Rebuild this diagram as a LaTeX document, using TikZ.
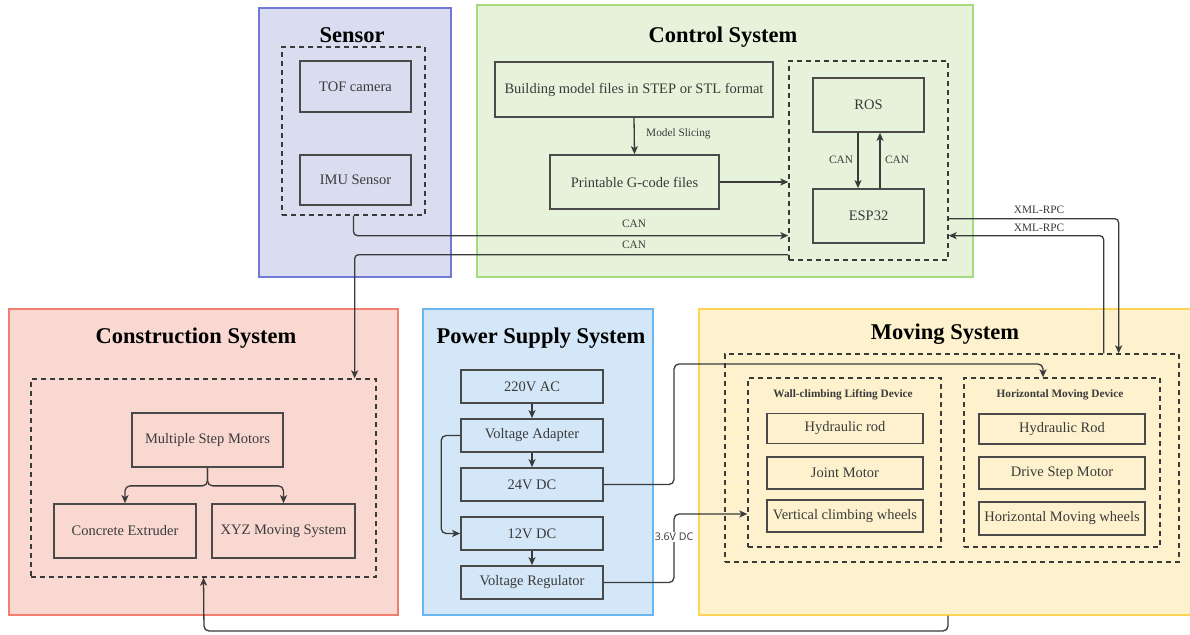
\documentclass[tikz,border=0pt]{standalone}
\usepackage{fontspec}
\setmainfont{Liberation Serif}
\newfontfamily\labsans{Open Sans}
\usetikzlibrary{arrows.meta,calc}
\definecolor{sensF}{HTML}{DADCF0}\definecolor{sensB}{HTML}{7078D8}
\definecolor{ctrlF}{HTML}{E6F3DA}\definecolor{ctrlB}{HTML}{A6DA7E}
\definecolor{consF}{HTML}{F9D8D2}\definecolor{consB}{HTML}{F07F6E}
\definecolor{powF}{HTML}{D4E7F8}\definecolor{powB}{HTML}{6BB5F0}
\definecolor{movF}{HTML}{FDF2CD}\definecolor{movB}{HTML}{FFD454}
\definecolor{ink}{HTML}{3A3A3A}
\definecolor{edge}{HTML}{4A4A4A}
\tikzset{
  panel/.style={draw=#1B, fill=#1F, line width=1.4pt, inner sep=0pt},
  ptitle/.style={font=\fontsize{22.5}{24}\selectfont\bfseries, text=black, inner sep=0pt, anchor=base},
  dbox/.style={draw=ink, dash pattern=on 5pt off 4pt, line width=1.3pt, inner sep=0pt},
  box/.style={draw=edge, line width=1.7pt, inner sep=0pt, text=ink, font=\fontsize{14.5}{16}\selectfont},
  arr/.style={draw=ink, line width=1.3pt, -{Stealth[length=8pt,width=7pt,inset=2pt]}},
  lbl/.style={font=\fontsize{11.3}{13}\selectfont, text=ink, inner sep=1pt},
  subt/.style={font=\fontsize{11.3}{13}\selectfont\bfseries, text=ink, inner sep=0pt},
}
\begin{document}
\begin{tikzpicture}[x=1pt,y=-1pt]
\useasboundingbox (0,0) rectangle (1190,634);
% panels
\node[panel=sens, minimum width=192pt, minimum height=269pt] (sensorP) at (355,142.5) {};
\node[panel=ctrl, minimum width=496pt, minimum height=272pt] (controlP) at (725,141) {};
\node[panel=cons, minimum width=389pt, minimum height=306pt] (constrP) at (203.5,462) {};
\node[panel=pow, minimum width=230pt, minimum height=306pt] (powerP) at (538,462) {};
\node[panel=mov, minimum width=493pt, minimum height=306pt] (movingP) at (945.5,462) {};
% titles
\node[ptitle] (tSensor) at (352,42) {Sensor};
\node[ptitle] (tControl) at (723,42) {Control System};
\node[ptitle] (tConstr) at (196,343) {Construction System};
\node[ptitle] (tPower) at (541,343) {Power Supply System};
\node[ptitle] (tMoving) at (945,339) {Moving System};
% dashed groups
\node[dbox, minimum width=143pt, minimum height=168pt] (sensorD) at (353.5,131) {};
\node[dbox, minimum width=159pt, minimum height=199pt] (controlD) at (868.5,160.5) {};
\node[dbox, minimum width=345pt, minimum height=198pt] (constrD) at (203.5,478) {};
\node[dbox, minimum width=454pt, minimum height=208pt] (movingD) at (952,458) {};
\node[dbox, minimum width=193pt, minimum height=169pt] (wallD) at (844.5,462.5) {};
\node[dbox, minimum width=196pt, minimum height=169pt] (horizD) at (1062,462.5) {};
\node[subt] (tWall) at (843,395) {Wall-climbing Lifting Device};
\node[subt] (tHoriz) at (1060,395) {Horizontal Moving Device};
% sensor boxes
\node[box, minimum width=111pt, minimum height=51pt] (tof) at (355.5,86.5) {TOF camera};
\node[box, minimum width=111pt, minimum height=50pt] (imu) at (355.5,180) {IMU Sensor};
% control boxes
\node[box, minimum width=278pt, minimum height=55pt] (build) at (634,89.5) {Building model files in STEP or STL format};
\node[box, minimum width=169pt, minimum height=54pt] (gcode) at (634.5,182) {Printable G-code files};
\node[box, minimum width=111pt, minimum height=54pt] (ros) at (868.5,105) {ROS};
\node[box, minimum width=111pt, minimum height=54pt] (esp) at (868.5,216) {ESP32};
% construction boxes
\node[box, minimum width=151pt, minimum height=54pt] (msm) at (207.5,440) {Multiple Step Motors};
\node[box, minimum width=142pt, minimum height=54pt] (extr) at (125,531) {Concrete Extruder};
\node[box, minimum width=143pt, minimum height=54pt] (xyz) at (283.5,531) {XYZ Moving System};
% power boxes
\node[box, minimum width=142pt, minimum height=33pt] (ac) at (532,386.5) {220V AC};
\node[box, minimum width=142pt, minimum height=33pt] (adapt) at (532,435.5) {Voltage Adapter};
\node[box, minimum width=142pt, minimum height=33pt] (dc24) at (532,484.5) {24V DC};
\node[box, minimum width=142pt, minimum height=33pt] (dc12) at (532,533.5) {12V DC};
\node[box, minimum width=142pt, minimum height=33pt] (reg) at (532,582.5) {Voltage Regulator};
% moving boxes
\node[box, minimum width=156pt, minimum height=30pt] (hrod) at (845,428.5) {Hydraulic rod};
\node[box, minimum width=156pt, minimum height=32pt] (joint) at (845,473) {Joint Motor};
\node[box, minimum width=156pt, minimum height=32pt] (vcw) at (845,516) {Vertical climbing wheels};
\node[box, minimum width=166pt, minimum height=30pt] (hrod2) at (1062,429) {Hydraulic Rod};
\node[box, minimum width=166pt, minimum height=32pt] (dsm) at (1062,473) {Drive Step Motor};
\node[box, minimum width=166pt, minimum height=33pt] (hmw) at (1062,518.5) {Horizontal Moving wheels};
% helper coordinates
\coordinate (p24) at (674,364);
\coordinate (p36) at (674,514);
\coordinate (pb) at (204,631);
% control connectors
\draw[arr] (build.south) -- (gcode.north);
\node[lbl, anchor=west] (lSlice) at (645,134) {Model Slicing};
\draw[arr] (gcode.east) -- (controlD.west |- gcode.east);
\draw[arr] ([xshift=-10.5pt]ros.south) -- ([xshift=-10.5pt]esp.north);
\draw[arr] ([xshift=11.5pt]esp.north) -- ([xshift=11.5pt]ros.south);
\node[lbl] (lCan3) at (841,160) {CAN};
\node[lbl] (lCan4) at (897,160) {CAN};
% CAN links
\draw[arr, rounded corners=4pt] (sensorD.south) |- ([yshift=25pt]controlD.south west);
\node[lbl] (lCan1) at (634,224) {CAN};
\draw[arr, rounded corners=4pt] ([yshift=6pt]controlD.south west) -| ([xshift=-22pt]constrD.north east);
\node[lbl] (lCan2) at (634,245) {CAN};
% XML-RPC links
\draw[arr, rounded corners=4pt] ([yshift=42pt]controlD.south east) -| ([xshift=-61pt]movingD.north east);
\node[lbl] (lX1) at (1039,210) {XML-RPC};
\draw[arr, rounded corners=4pt] ([xshift=-76pt]movingD.north east) |- ([yshift=25pt]controlD.south east);
\node[lbl] (lX2) at (1039,228) {XML-RPC};
% construction fork
\draw[arr, rounded corners=5pt] (msm.south) -- ++(0,-18pt) -| (extr.north);
\draw[arr, rounded corners=5pt] (msm.south) -- ++(0,-18pt) -| (xyz.north);
% power chain
\draw[arr] (ac.south) -- (adapt.north);
\draw[arr] (adapt.south) -- (dc24.north);
\draw[arr] (dc12.south) -- (reg.north);
\draw[arr, rounded corners=5pt] (adapt.west) -- ++(-19pt,0) |- (dc12.west);
\draw[arr, rounded corners=5pt] (dc24.east) -| (p24) -| ([xshift=-19pt]horizD.north);
\draw[arr, rounded corners=5pt] (reg.east) -| (p36) -- (wallD.west |- p36);
\node[font=\labsans\fontsize{10.6}{12}\selectfont, text=ink, fill=white, inner sep=1pt] (l36) at (674,537) {3.6V DC};
% bottom link
\draw[arr, rounded corners=5pt] ([xshift=2.5pt]movingP.south) |- (pb) -- (constrD.south);
\end{tikzpicture}
\end{document}
